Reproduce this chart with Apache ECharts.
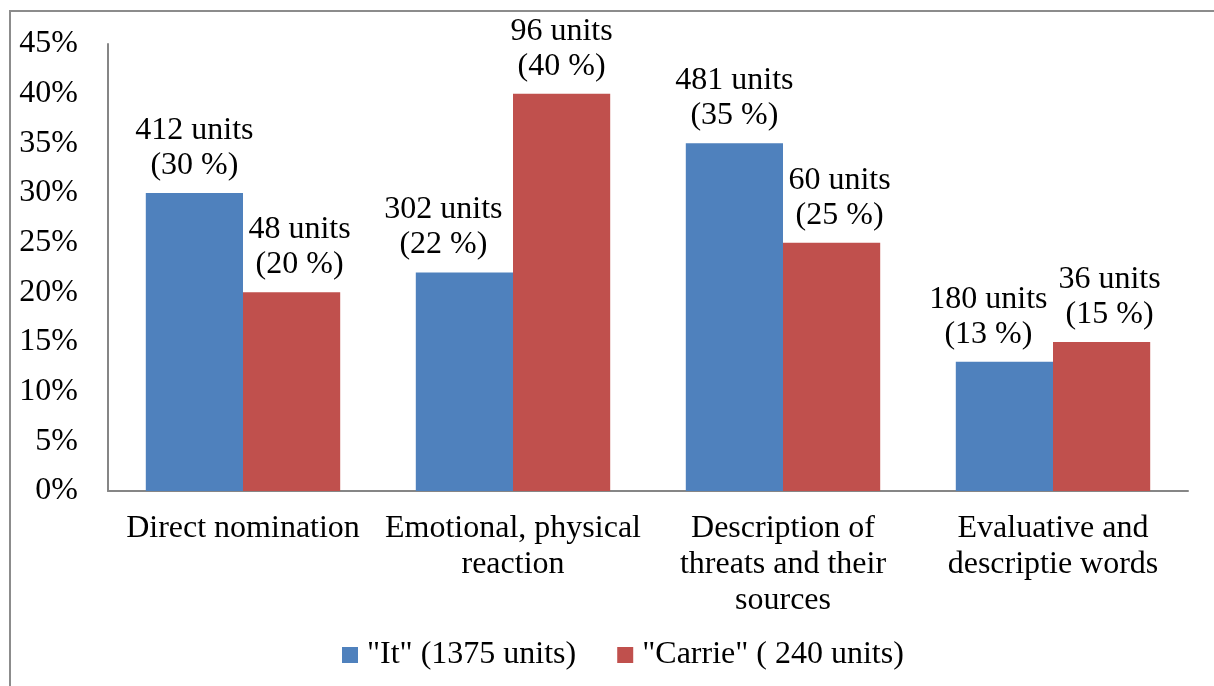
<!DOCTYPE html>
<html>
<head>
<meta charset="utf-8">
<script src="https://cdn.jsdelivr.net/npm/echarts@6/dist/echarts.min.js"></script>
<style>
html,body{margin:0;padding:0;background:#fff;}
#chart{width:1214px;height:686px;}
</style>
</head>
<body>
<div id="chart"></div>
<script>
var categories = ['Direct nomination', 'Emotional, physical\nreaction', 'Description of\nthreats and their\nsources', 'Evaluative and\ndescriptie words'];
var seriesNames = ['"It" (1375 units)', '"Carrie" ( 240 units)'];
var itPct = [30, 22, 35, 13];
var carriePct = [20, 40, 25, 15];
var itUnits = [412, 302, 481, 180];
var carrieUnits = [48, 96, 60, 36];
var yTicks = [0, 5, 10, 15, 20, 25, 30, 35, 40, 45];

// label nudges (layout only), px
var itLabelShift = [0, -21, 0, -16];
var carrieLabelShift = [8, 0, 8, 8];

var FONT = "'Liberation Serif', 'Times New Roman', serif";
var FS = 32;
var chart = echarts.init(document.getElementById('chart'));

function makeLabel(units) {
  return {
    show: true,
    position: 'top',
    distance: 10,
    fontFamily: FONT,
    fontSize: FS,
    lineHeight: 35,
    color: '#000',
    formatter: function (p) {
      return units[p.dataIndex] + ' units\n(' + p.value + ' %)';
    }
  };
}
function makeData(values, shifts) {
  return values.map(function (v, i) {
    return {value: v, label: {offset: [shifts[i], 0]}};
  });
}

chart.setOption({
  animation: false,
  textStyle: {fontFamily: FONT},
  graphic: [{
    type: 'rect',
    shape: {x: 10, y: 11, width: 1220, height: 700},
    style: {fill: 'none', stroke: '#8c8c8c', lineWidth: 2},
    silent: true
  }],
  grid: {left: 108, right: 26, top: 44, bottom: 195, containLabel: false},
  legend: {
    top: 632,
    left: 337,
    itemWidth: 16,
    itemHeight: 16,
    itemGap: 41,
    icon: 'rect',
    textStyle: {fontFamily: FONT, fontSize: FS, lineHeight: 36, color: '#000', padding: [0, 0, 0, 4]},
    data: seriesNames
  },
  xAxis: {
    type: 'category',
    data: categories,
    axisLine: {show: true, lineStyle: {color: '#868686', width: 2}},
    axisTick: {show: false},
    axisLabel: {
      interval: 0,
      margin: 20,
      fontFamily: FONT,
      fontSize: FS,
      lineHeight: 36,
      color: '#000'
    }
  },
  yAxis: {
    type: 'value',
    min: yTicks[0],
    max: yTicks[yTicks.length - 1],
    interval: 5,
    axisLine: {show: true, lineStyle: {color: '#868686', width: 2}},
    axisTick: {show: false},
    splitLine: {show: false},
    axisLabel: {
      margin: 30,
      fontFamily: FONT,
      fontSize: FS,
      color: '#000',
      formatter: '{value}%'
    }
  },
  series: [
    {
      name: seriesNames[0],
      type: 'bar',
      data: makeData(itPct, itLabelShift),
      barGap: '0%',
      barCategoryGap: '28%',
      itemStyle: {color: '#4F81BD'},
      label: makeLabel(itUnits)
    },
    {
      name: seriesNames[1],
      type: 'bar',
      data: makeData(carriePct, carrieLabelShift),
      barGap: '0%',
      barCategoryGap: '28%',
      itemStyle: {color: '#C0504D'},
      label: makeLabel(carrieUnits)
    }
  ]
});
</script>
</body>
</html>
